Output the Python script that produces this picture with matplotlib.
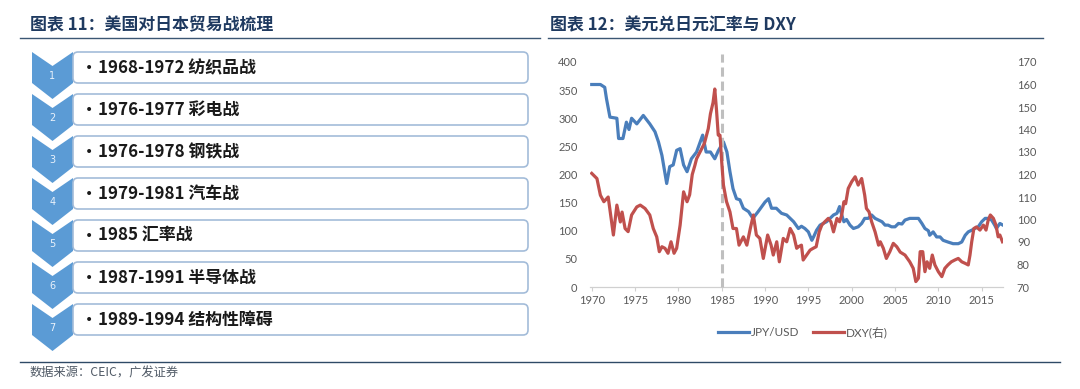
import matplotlib
matplotlib.use("Agg")
import matplotlib.pyplot as plt
from matplotlib.patches import Polygon, FancyBboxPatch
from matplotlib.lines import Line2D

CJK = ['Noto Sans CJK SC', 'DejaVu Sans']
NUM = ['Lato', 'Noto Sans CJK SC', 'DejaVu Sans']

# ---------------- data ----------------
left_title = "图表 11：美国对日本贸易战梳理"
right_title = "图表 12：美元兑日元汇率与 DXY"
source_text = "数据来源：CEIC，广发证券"

war_numbers = ["1", "2", "3", "4", "5", "6", "7"]
war_items = ["1968-1972 纺织品战", "1976-1977 彩电战", "1976-1978 钢铁战",
             "1979-1981 汽车战", "1985 汇率战", "1987-1991 半导体战",
             "1989-1994 结构性障碍"]

jpy_years = [1970.0, 1971.0, 1971.5, 1971.7, 1972.1, 1972.9, 1973.1, 1973.6, 1974.0, 1974.3,
             1974.6, 1975.2, 1975.95, 1976.7, 1977.3, 1977.7, 1978.1, 1978.65, 1979.0, 1979.4,
             1979.8, 1980.2, 1980.6, 1981.0, 1981.5, 1982.1, 1982.8, 1983.2, 1983.7, 1984.2,
             1984.6, 1985.2, 1985.6, 1985.95, 1986.3, 1986.7, 1987.1, 1987.5, 1988.1, 1988.6,
             1989.2, 1990.0, 1990.4, 1990.75, 1991.3, 1991.9, 1992.5, 1993.3, 1993.85, 1994.2,
             1994.6, 1995.0, 1995.4, 1995.6, 1995.95, 1996.35, 1996.7, 1997.1, 1997.5, 1997.9,
             1998.3, 1998.6, 1998.85, 1999.1, 1999.4, 1999.8, 2000.2, 2000.75, 2001.15, 2001.5,
             2001.9, 2002.3, 2002.7, 2003.1, 2003.5, 2003.85, 2004.2, 2004.6, 2005.0, 2005.4,
             2005.8, 2006.15, 2006.7, 2007.3, 2007.7, 2008.1, 2008.45, 2008.85, 2009.0, 2009.4,
             2009.8, 2010.2, 2010.55, 2011.1, 2011.7, 2012.3, 2012.7, 2013.1, 2013.45, 2013.85,
             2014.2, 2014.6, 2015.0, 2015.4, 2015.75, 2016.15, 2016.5, 2016.7, 2017.1, 2017.45]
jpy_values = [360, 360, 355, 335, 302, 300, 264, 264, 293, 280,
              300, 290, 305, 290, 276, 258, 234, 184, 214, 217,
              243, 246, 217, 205, 228, 240, 270, 240, 240, 228,
              242, 258, 240, 205, 175, 157, 155, 140, 134, 122,
              134, 151, 157, 140, 140, 131, 128, 116, 104, 108,
              104, 98, 83, 89, 101, 110, 113, 116, 122, 128,
              131, 143, 128, 116, 120, 110, 104, 107, 113, 122,
              122, 128, 122, 119, 116, 110, 110, 107, 107, 113,
              112, 119, 122, 122, 122, 113, 104, 100, 92, 98,
              89, 89, 83, 80, 77, 77, 80, 92, 98, 101,
              104, 107, 116, 122, 122, 119, 110, 104, 113, 110]

dxy_years = [1970.0, 1970.6, 1971.0, 1971.4, 1971.9, 1972.3, 1972.5, 1972.9, 1973.3, 1973.5,
             1973.85, 1974.2, 1974.6, 1975.2, 1975.6, 1976.15, 1976.7, 1977.1, 1977.5, 1977.8,
             1978.1, 1978.45, 1978.8, 1979.15, 1979.5, 1979.8, 1980.2, 1980.6, 1981.0, 1981.3,
             1981.6, 1981.9, 1982.1, 1982.7, 1983.0, 1983.45, 1983.7, 1984.0, 1984.2, 1984.4,
             1984.6, 1984.8, 1985.0, 1985.2, 1985.55, 1985.95, 1986.3, 1986.7, 1987.0, 1987.5,
             1987.9, 1988.3, 1988.65, 1989.0, 1989.4, 1989.8, 1990.3, 1990.7, 1990.95, 1991.35,
             1991.65, 1992.1, 1992.5, 1992.9, 1993.3, 1993.65, 1993.9, 1994.2, 1994.4, 1994.8,
             1995.2, 1995.55, 1995.9, 1996.25, 1996.55, 1996.9, 1997.3, 1997.6, 1997.9, 1998.3,
             1998.6, 1998.85, 1999.1, 1999.3, 1999.6, 2000.0, 2000.4, 2000.75, 2001.15, 2001.5,
             2001.7, 2002.0, 2002.3, 2002.7, 2003.1, 2003.3, 2003.65, 2004.0, 2004.4, 2004.8,
             2005.2, 2005.6, 2006.15, 2006.7, 2007.1, 2007.4, 2007.7, 2007.9, 2008.2, 2008.45,
             2008.7, 2009.0, 2009.3, 2009.6, 2010.0, 2010.4, 2010.75, 2011.1, 2011.5, 2011.9,
             2012.3, 2012.7, 2013.1, 2013.45, 2013.65, 2013.85, 2014.1, 2014.4, 2014.8, 2015.2,
             2015.5, 2015.75, 2016.0, 2016.35, 2016.65, 2016.9, 2017.1, 2017.4]
dxy_values = [120.5, 118.2, 110.8, 107.9, 110.0, 98.9, 93.1, 106.4, 98.9, 103.3,
              96.0, 94.6, 102.0, 105.6, 106.4, 104.9, 102.0, 96.0, 92.3, 85.7,
              87.9, 87.2, 85.0, 90.1, 85.0, 87.2, 97.5, 112.3, 107.9, 111.0,
              120.0, 124.0, 127.0, 131.6, 133.8, 140.4, 147.0, 152.0, 158.0, 148.6,
              137.5, 137.5, 125.6, 115.3, 108.0, 103.4, 96.0, 96.0, 88.6, 92.3,
              88.6, 96.0, 102.0, 93.1, 91.6, 82.7, 93.1, 88.6, 84.2, 90.1,
              81.2, 91.6, 90.1, 96.0, 93.1, 87.2, 88.0, 88.6, 82.0, 84.2,
              86.4, 87.2, 87.9, 94.5, 97.5, 99.0, 100.5, 99.0, 94.5, 100.5,
              99.0, 102.0, 107.9, 107.0, 113.8, 116.8, 119.0, 115.3, 118.2, 110.8,
              104.9, 103.4, 99.0, 94.5, 88.6, 90.1, 87.2, 82.7, 85.7, 89.4,
              87.9, 85.5, 84.2, 81.2, 78.3, 72.4, 73.9, 85.7, 85.7, 76.8,
              81.2, 78.3, 84.2, 79.8, 76.8, 74.6, 78.3, 79.8, 81.2, 82.0,
              82.7, 81.2, 80.5, 79.8, 84.2, 90.1, 96.0, 96.7, 95.3, 97.5,
              95.3, 99.7, 102.0, 100.5, 97.5, 92.3, 93.1, 90.1]

x_ticks = [1970, 1975, 1980, 1985, 1990, 1995, 2000, 2005, 2010, 2015]
left_ticks = [0, 50, 100, 150, 200, 250, 300, 350, 400]
right_ticks = [70, 80, 90, 100, 110, 120, 130, 140, 150, 160, 170]
event_year = 1985
series_labels = ["JPY/USD", "DXY(右)"]

# ---------------- styles ----------------
BLUE = '#4A7EBB'
RED = '#C0504D'
CHEV = '#5B9BD5'
TITLE_C = '#1F3A60'
TICK_C = '#595959'

fig = plt.figure(figsize=(10.8, 3.89), dpi=100)
fig.patch.set_facecolor('white')

# background (pixel coordinate) layer for the left diagram and frame
bg = fig.add_axes([0, 0, 1, 1])
bg.set_xlim(0, 1080)
bg.set_ylim(389, 0)
bg.axis('off')

# titles
bg.text(30, 25, left_title, fontsize=12.2, fontweight='bold', color=TITLE_C,
        family=CJK, va='center', ha='left')
bg.text(550, 25, right_title, fontsize=12.2, fontweight='bold', color=TITLE_C,
        family=CJK, va='center', ha='left')
bg.plot([20, 540], [38, 38], color='#3B5673', lw=1.0)
bg.plot([548, 1043], [38, 38], color='#3B5673', lw=1.0)
bg.plot([20, 1060], [362, 362], color='#2F4A66', lw=1.0)
bg.text(30, 373, source_text, fontsize=8.8, color='#505A66', family=CJK,
        va='center', ha='left')

# chevrons + boxes
row0, step = 52, 42
for i, (num, item) in enumerate(zip(war_numbers, war_items)):
    top = row0 + step * i
    chev = Polygon([(32, top), (52.5, top + 14), (73, top), (73, top + 31),
                    (52.5, top + 47), (32, top + 31)], closed=True,
                   facecolor=CHEV, edgecolor='none', zorder=2)
    bg.add_patch(chev)
    bg.text(52.5, top + 24, num, color='#EAF2FB', fontsize=7, ha='center',
            va='center', zorder=3)
    box = FancyBboxPatch((73, top), 455, 31,
                         boxstyle="round,pad=0,rounding_size=5",
                         facecolor='white', edgecolor='#A3BCD9', lw=1.2, zorder=2)
    bg.add_patch(box)
    bg.text(89, top + 16, "\u2022", fontsize=10, color='#1A1A1A',
            family='DejaVu Sans', va='center', ha='center', zorder=3)
    bg.text(98, top + 16, item, fontsize=12.2, color='#1A1A1A', fontweight='bold',
            family=CJK, va='center', ha='left', zorder=3)

# ---------------- chart ----------------
ax = fig.add_axes([590 / 1080, 1 - 287 / 389, 413 / 1080, 225 / 389])
ax2 = ax.twinx()

ax.plot(jpy_years, jpy_values, color=BLUE, lw=2.3, zorder=3)
ax2.plot(dxy_years, dxy_values, color=RED, lw=2.3, zorder=3)
ax.plot([event_year, event_year], [0, 415], color='#BFBFBF', lw=2.2,
        linestyle=(0, (3, 1.6)), clip_on=False, zorder=4)

ax.set_xlim(1969.8, 2017.46)
ax.set_ylim(0, 400)
ax2.set_ylim(70, 170)
ax.set_xticks(x_ticks)
ax.set_yticks(left_ticks)
ax2.set_yticks(right_ticks)

for a in (ax, ax2):
    for s in a.spines.values():
        s.set_visible(False)
ax.spines['bottom'].set_visible(True)
ax.spines['bottom'].set_color('#D0D0D0')
ax.spines['bottom'].set_linewidth(0.9)

ax.tick_params(axis='x', length=3, color='#D0D0D0', labelcolor=TICK_C,
               labelsize=8, pad=3)
ax.tick_params(axis='y', length=0, labelcolor=TICK_C, labelsize=8, pad=9)
ax2.tick_params(axis='y', length=0, labelcolor=TICK_C, labelsize=8, pad=10)
for lab in ax.get_xticklabels() + ax.get_yticklabels() + ax2.get_yticklabels():
    lab.set_family(NUM)

ax2.set_zorder(ax.get_zorder() + 1)
ax2.patch.set_visible(False)

handles = [Line2D([], [], color=BLUE, lw=2.3), Line2D([], [], color=RED, lw=2.3)]
leg = fig.legend(handles, series_labels, loc='center', ncol=2,
                 bbox_to_anchor=(803 / 1080, 1 - 332 / 389), frameon=False,
                 handlelength=2.6, handletextpad=0.15, columnspacing=1.2,
                 prop={'family': NUM, 'size': 8.5})
for t in leg.get_texts():
    t.set_color(TICK_C)

fig.savefig('out.png', dpi=100)
